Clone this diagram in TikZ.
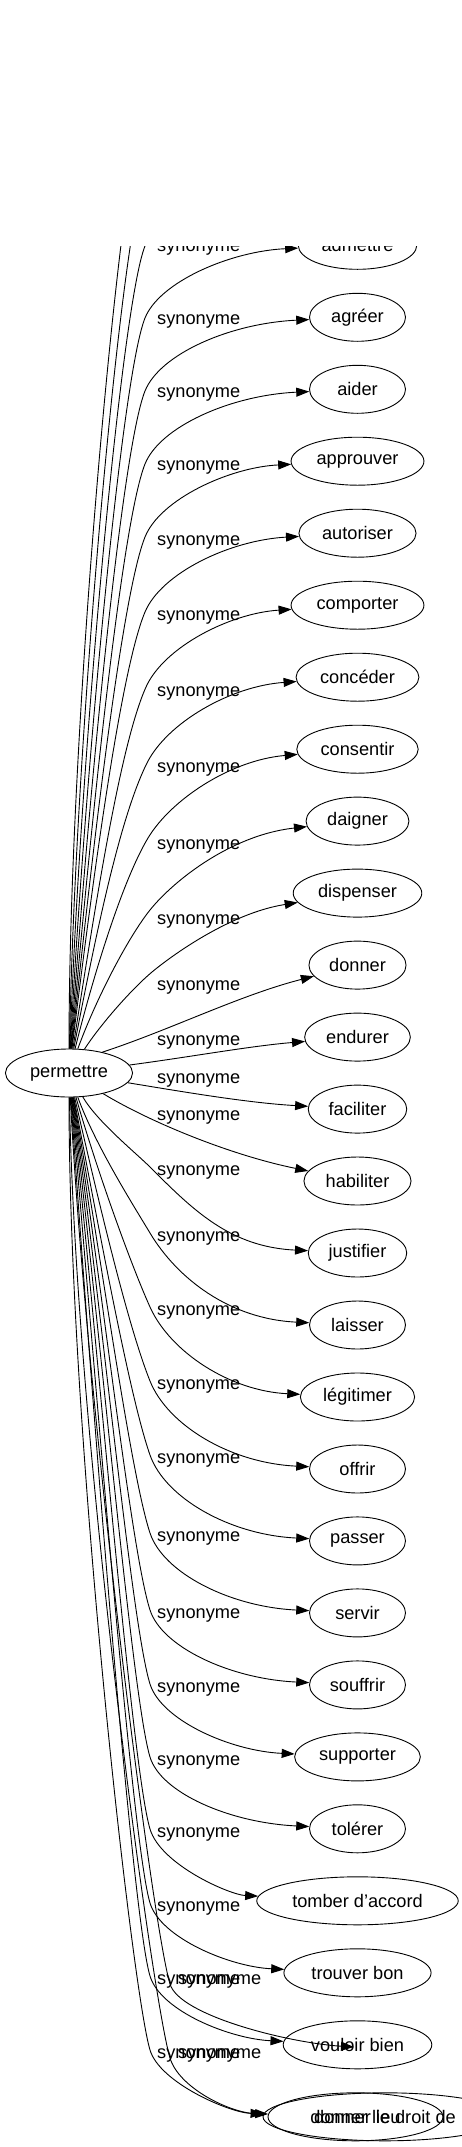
\documentclass[tikz,border=0pt]{standalone}
\usepackage{fontspec}
\setmainfont{Liberation Sans}
\usetikzlibrary{arrows.meta,shapes.geometric,calc}
\tikzset{
  syn/.style={draw,ellipse,minimum width=96pt,minimum height=48pt,inner xsep=6pt,inner ysep=0pt,line width=0.9pt},
  lab/.style={anchor=west,inner sep=0pt},
  edge/.style={line width=0.9pt,-{Triangle[length=13pt,width=9pt]}},
}
\begin{document}
\begin{tikzpicture}[x=1pt,y=-1pt,font=\fontsize{18.2}{22}\selectfont]
  \useasboundingbox (0,0) rectangle (462,2147);
  \clip (0,246) rectangle (462,2147);
  \node[syn] (perm) at (69,1073) {permettre};
  % edges that leave the top of the picture
  \foreach \n/\ty/\ang/\my in {h1/29.4/90/102,h2/101.3/89/174,h3/173.3/88/246}{
    \coordinate (\n) at (300,\ty);
    \pgfmathsetmacro\len{1049-\my}
    \pgfmathsetmacro\cc{0.35*\len*cot(\ang)}
    \pgfmathsetmacro\dd{min(0.2*\len,60)}
    \draw[edge] (perm.\ang) .. controls ($(perm.\ang)+(\cc,-0.35*\len)$) and (145-0.4*\dd,\my+\dd) .. (145,\my) .. controls (145+0.4*36,\my-36) and (230,\ty+6) .. (\n);
  }
  % upper synonyms
  \foreach \n/\txt/\ty/\ly/\ang/\mx/\my/\sl/\kk/\ee in {
      admettre/admettre/245.3/248/87/145/318/0.4/36/6,
      agreer/agréer/317.3/321/86/145/391/0.4/37/6,
      aider/aider/389.3/394/85/145/464/0.4/37/6,
      approuver/approuver/461.2/467/84/145/537/0.4/38/6,
      autoriser/autoriser/533.2/542/83/145/612/0.42/39/7,
      comporter/comporter/605.2/617/81/146/687/0.45/40/8,
      conceder/concéder/677.2/693/79/147/763/0.5/40/9,
      consentir/consentir/749.2/769/76/148/838/0.6/38/11,
      daigner/daigner/821.1/846/70/150/910/0.8/28/14,
      dispenser/dispenser/893.1/921/57/152/972/1.2/16/20}{
    \node[syn] (\n) at (357.5,\ty) {\txt};
    \node[lab] (l\n) at (157,\ly) {synonyme};
    \pgfmathsetmacro\len{1049-\my}
    \pgfmathsetmacro\cc{0.35*\len*cot(\ang)}
    \pgfmathsetmacro\dd{min(0.2*\len,60)}
    \draw[edge] (perm.\ang) .. controls ($(perm.\ang)+(\cc,-0.35*\len)$) and (\mx-\sl*\dd,\my+\dd) .. (\mx,\my) .. controls (\mx+\sl*\kk,\my-\kk) and (230,\ty+\ee) .. (\n);
  }
  % the four close to permettre
  \node[syn] (donner) at (357.5,965.1) {donner};
  \node[lab] (ldonner) at (157,987) {synonyme};
  \draw[edge] (perm.32) .. controls (170,1030) and (240,995) .. (donner);
  \node[syn] (endurer) at (357.5,1037.1) {endurer};
  \node[lab] (lendurer) at (157,1042) {synonyme};
  \draw[edge] (perm) .. controls (190,1057) and (250,1046) .. (endurer);
  \node[syn] (faciliter) at (357.5,1109.1) {faciliter};
  \node[lab] (lfaciliter) at (157,1080) {synonyme};
  \draw[edge] (perm) .. controls (190,1093) and (250,1103) .. (faciliter);
  \node[syn] (habiliter) at (357.5,1181) {habiliter};
  \node[lab] (lhabiliter) at (157,1117) {synonyme};
  \draw[edge] (perm) .. controls (150,1122) and (230,1155) .. (habiliter);
  % lower synonyms
  \foreach \n/\txt/\ty/\ly/\ang/\mx/\my/\sl/\kk/\ee in {
      justifier/justifier/1253/1172/-60/150/1167/1.0/43/6,
      laisser/laisser/1325/1238/-70/150/1233/0.6/46/6,
      legitimer/légitimer/1397/1312/-74/150/1307/0.45/45/6,
      offrir/offrir/1469/1386/-77/150/1381/0.4/44/6,
      passer/passer/1540.9/1460/-79/150/1455/0.35/43/6,
      servir/servir/1612.9/1538/-80/150/1533/0.33/40/6,
      souffrir/souffrir/1684.9/1615/-81/150/1610/0.32/37/6,
      supporter/supporter/1756.9/1689/-82/150/1684/0.31/36/6,
      tolerer/tolérer/1828.8/1762/-83/150/1757/0.3/36/6,
      tomber/tomber d'accord/1900.8/1834/-84/150/1829/0.3/36/6,
      trouver/trouver bon/1972.8/1908/-85/150/1903/0.3/35/6,
      vouloir/vouloir bien/2044.8/1981/-86/150/1976/0.3/35/6}{
    \node[syn] (\n) at (357.5,\ty) {\txt};
    \node[lab] (l\n) at (157,\ly) {synonyme};
    \pgfmathsetmacro\len{\my-1097}
    \pgfmathsetmacro\cc{0.35*\len*cot(abs(\ang))}
    \pgfmathsetmacro\dd{min(0.2*\len,60)}
    \draw[edge] (perm.\ang) .. controls ($(perm.\ang)+(\cc,0.35*\len)$) and (\mx-\sl*\dd,\my-\dd) .. (\mx,\my) .. controls (\mx+\sl*\kk,\my+\kk) and (230,\ty-\ee) .. (\n);
  }
  % overlapping ones at the bottom
  \node[syn,minimum width=244pt] (droit) at (385,2116.8) {donner le droit de};
  \node[syn,minimum width=175pt] (lieu) at (355.5,2116.8) {donner lieu};
  \coordinate (vb2) at (354,2047);
  \node[lab] (lvb2) at (178,1981) {synonyme};
  \node[lab] (ldroit) at (157,2055) {synonyme};
  \node[lab] (llieu) at (178,2055) {synonyme};
  \foreach \n/\ty/\ang/\mx/\my/\kk/\qx in {vb2/2047/-87/170/1984/32/290,droit/2116.8/-90/150/2050/33/230,lieu/2116.8/-89/170/2058/30/230}{
    \pgfmathsetmacro\len{\my-1097}
    \pgfmathsetmacro\cc{0.35*\len*cot(abs(\ang))}
    \pgfmathsetmacro\dd{min(0.2*\len,60)}
    \draw[edge] (perm.\ang) .. controls ($(perm.\ang)+(\cc,0.35*\len)$) and (\mx-0.3*\dd,\my-\dd) .. (\mx,\my) .. controls (\mx+0.3*\kk,\my+\kk) and (\qx,\ty-4) .. (\n);
  }
\end{tikzpicture}
\end{document}
